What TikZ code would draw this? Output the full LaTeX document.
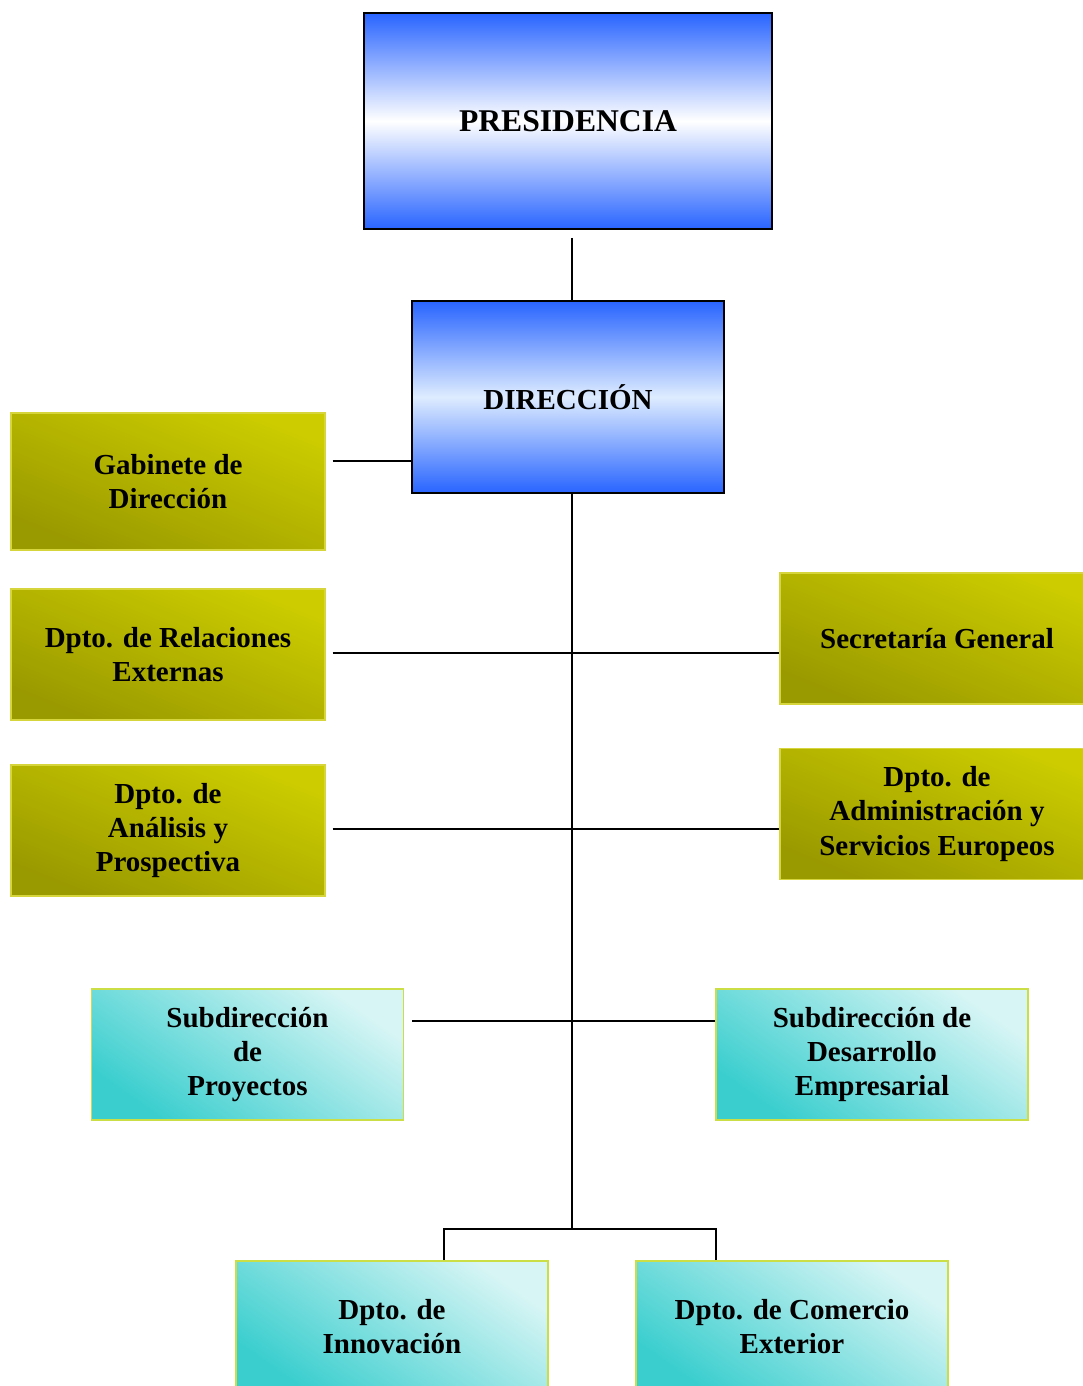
\documentclass[tikz,border=0pt]{standalone}
\usepackage{fontspec}
\setmainfont{Liberation Serif}
\usepackage{xcolor}
\usetikzlibrary{positioning,calc}

\definecolor{bluedeep}{RGB}{40,100,255}
\definecolor{bluepale}{RGB}{222,236,255}
\definecolor{olivedark}{RGB}{153,153,0}
\definecolor{olivelight}{RGB}{204,204,0}
\definecolor{oliveedge}{RGB}{214,214,60}
\definecolor{tealdark}{RGB}{58,206,206}
\definecolor{teallight}{RGB}{216,245,245}
\definecolor{tealedge}{RGB}{204,222,70}

\tikzset{
    unitbox/.style={align=center, inner sep=0pt, font=\bfseries\fontsize{8.25}{9.8}\selectfont},
    bluebox/.style={unitbox, draw=black, line width=0.55pt, top color=bluedeep, bottom color=bluedeep},
    olivebox/.style={unitbox, draw=oliveedge, line width=0.3pt, top color=olivelight, bottom color=olivedark, shading angle=-22, minimum width=3.14cm, minimum height=1.31cm},
    tealbox/.style={unitbox, draw=tealedge, line width=0.45pt, top color=teallight, bottom color=tealdark, shading angle=-35, minimum width=3.12cm, minimum height=1.31cm},
    conn/.style={line width=0.55pt}
}

\begin{document}
\begin{tikzpicture}
    \useasboundingbox (0,0) rectangle (10.82,-13.86);

    % top of the chart
    \node[bluebox, middle color=white, minimum width=4.08cm, minimum height=2.16cm,
          font=\bfseries\fontsize{9}{10.5}\selectfont] (pres) at (5.68,-1.21) {PRESIDENCIA};
    \node[bluebox, middle color=bluepale, minimum width=3.12cm, minimum height=1.92cm] (dir) at (5.68,-3.97) {DIRECCIÓN};

    % units beside the trunk
    \node[olivebox, minimum height=1.37cm] (gab) at (1.68,-4.815) {Gabinete de\\Dirección};
    \node[olivebox] (rel) at (1.68,-6.545) {Dpto. de Relaciones\\Externas};
    \node[olivebox] (ana) at (1.68,-8.305) {Dpto. de\\Análisis y\\Prospectiva};
    \node[olivebox] (sec) at (9.37,-6.385) {Secretaría General};
    \node[olivebox] (adm) at (9.37,-8.14) {Dpto. de\\Administración y\\Servicios Europeos};

    % subdirections and departments
    \node[tealbox] (subp) at (2.475,-10.545) {Subdirección\\de\\Proyectos};
    \node[tealbox] (subd) at (8.72,-10.545) {Subdirección de\\Desarrollo\\Empresarial};
    \node[tealbox] (inn) at (3.92,-13.265) {Dpto. de\\Innovación};
    \node[tealbox] (com) at (7.92,-13.265) {Dpto. de Comercio\\Exterior};

    % levels of the connectors
    \coordinate (rowA) at (5.72,-4.61);
    \coordinate (rowB) at (5.72,-6.53);
    \coordinate (rowC) at (5.72,-8.29);
    \coordinate (rowD) at (5.72,-10.21);
    \coordinate (fork) at (5.72,-12.29);
    \coordinate (forkL) at (4.44,-12.29);
    \coordinate (forkR) at (7.16,-12.29);

    \draw[conn, shorten <=0.08cm] (pres.south -| fork) -- (dir.north -| fork);
    \draw[conn] (dir.south -| fork) -- (fork);
    \draw[conn, shorten <=0.07cm] (gab.east |- rowA) -- (dir.west |- rowA);
    \draw[conn, shorten <=0.07cm] (rel.east |- rowB) -- (sec.west |- rowB);
    \draw[conn, shorten <=0.07cm] (ana.east |- rowC) -- (adm.west |- rowC);
    \draw[conn, shorten <=0.08cm] (subp.east |- rowD) -- (subd.west |- rowD);
    \draw[conn] (forkL |- inn.north) -- (forkL) -- (forkR) -- (forkR |- com.north);
\end{tikzpicture}
\end{document}
